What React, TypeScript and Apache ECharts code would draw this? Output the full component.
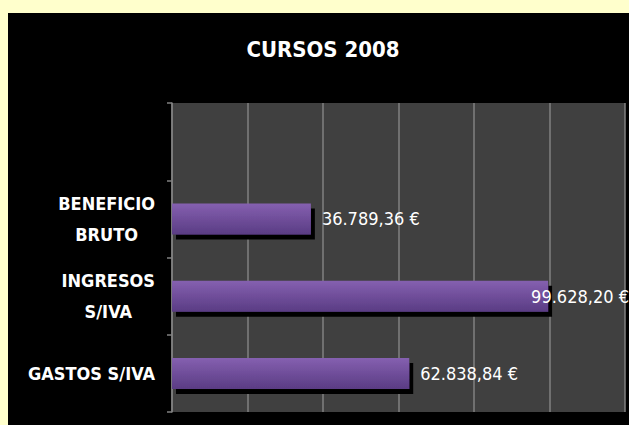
import React, { useEffect, useRef } from "react";
import * as echarts from "echarts";

const categories = ["GASTOS S/IVA", "INGRESOS\nS/IVA", "BENEFICIO\nBRUTO", ""];
const values = [62838.84, 99628.2, 36789.36, null];
const xTicks = [0, 20000, 40000, 60000, 80000, 100000, 120000];
const titleText = "CURSOS 2008";

const NARROW = '"Liberation Sans Narrow", "DejaVu Sans Condensed", "Noto Sans", sans-serif';

function fmtEuro(v: number): string {
  const [intPart, dec] = v.toFixed(2).split(".");
  const withDots = intPart.replace(/\B(?=(\d{3})+(?!\d))/g, ".");
  return `${withDots},${dec} €`;
}

export default function App() {
  const ref = useRef<HTMLDivElement>(null);
  useEffect(() => {
    if (!ref.current) return;
    const chart = echarts.init(ref.current, null, { renderer: "svg" });
    const barData = values.map((v) =>
      v === null
        ? null
        : {
            value: v,
            label: v > 90000 ? { offset: [-28, 0] } : {},
          }
    );
    chart.setOption({
      animation: false,
      backgroundColor: "transparent",
      graphic: [
        {
          type: "rect",
          z: -10,
          silent: true,
          shape: { x: 8, y: 13, width: 621, height: 412 },
          style: { fill: "#000000" },
        },
      ],
      title: {
        text: titleText,
        left: 318,
        top: 33,
        textAlign: "center",
        textStyle: {
          color: "#ffffff",
          fontFamily: NARROW,
          fontWeight: "bold",
          fontSize: 22,
        },
      },
      grid: {
        left: 172,
        top: 103,
        right: 4,
        bottom: 13,
        show: true,
        backgroundColor: "#404040",
        borderWidth: 0,
        containLabel: false,
      },
      xAxis: {
        type: "value",
        min: xTicks[0],
        max: xTicks[xTicks.length - 1],
        interval: xTicks[1] - xTicks[0],
        axisLabel: { show: false },
        axisLine: { show: false },
        axisTick: { show: false },
        splitLine: { show: true, lineStyle: { color: "#808080", width: 1.5 } },
      },
      yAxis: {
        type: "category",
        data: categories,
        axisLine: { show: true, lineStyle: { color: "#808080", width: 1.5 } },
        axisTick: { show: true, length: 5, lineStyle: { color: "#808080", width: 1.5 } },
        splitLine: { show: false },
        axisLabel: {
          margin: 17,
          color: "#ffffff",
          fontFamily: NARROW,
          fontWeight: "bold",
          fontSize: 18,
          align: "right",
          formatter: (val: string) => {
            if (!val) return "";
            if (val.indexOf("\n") >= 0) {
              return val
                .split("\n")
                .map((l) => `{c|${l}}`)
                .join("\n");
            }
            return `{r|${val}}`;
          },
          rich: {
            c: {
              align: "center",
              lineHeight: 31,
              color: "#ffffff",
              fontFamily: NARROW,
              fontWeight: "bold",
              fontSize: 18,
            },
            r: {
              color: "#ffffff",
              fontFamily: NARROW,
              fontWeight: "bold",
              fontSize: 18,
            },
          },
        },
      },
      series: [
        {
          type: "bar",
          data: barData,
          barWidth: 31,
          itemStyle: {
            color: new echarts.graphic.LinearGradient(0, 0, 0, 1, [
              { offset: 0, color: "#8560b0" },
              { offset: 1, color: "#5a3c84" },
            ]),
            shadowColor: "#000000",
            shadowBlur: 0,
            shadowOffsetX: 4,
            shadowOffsetY: 5,
          },
          label: {
            show: true,
            position: "right",
            distance: 11,
            color: "#ffffff",
            fontFamily: NARROW,
            fontSize: 18,
            formatter: (p: any) => fmtEuro(p.value),
          },
        },
      ],
    });
    return () => chart.dispose();
  }, []);
  return (
    <div
      style={{
        position: "absolute",
        left: 0,
        top: 0,
        width: 629,
        height: 425,
        background: "#ffffcc",
      }}
    >
      <div ref={ref} style={{ width: 629, height: 425 }} />
    </div>
  );
}
